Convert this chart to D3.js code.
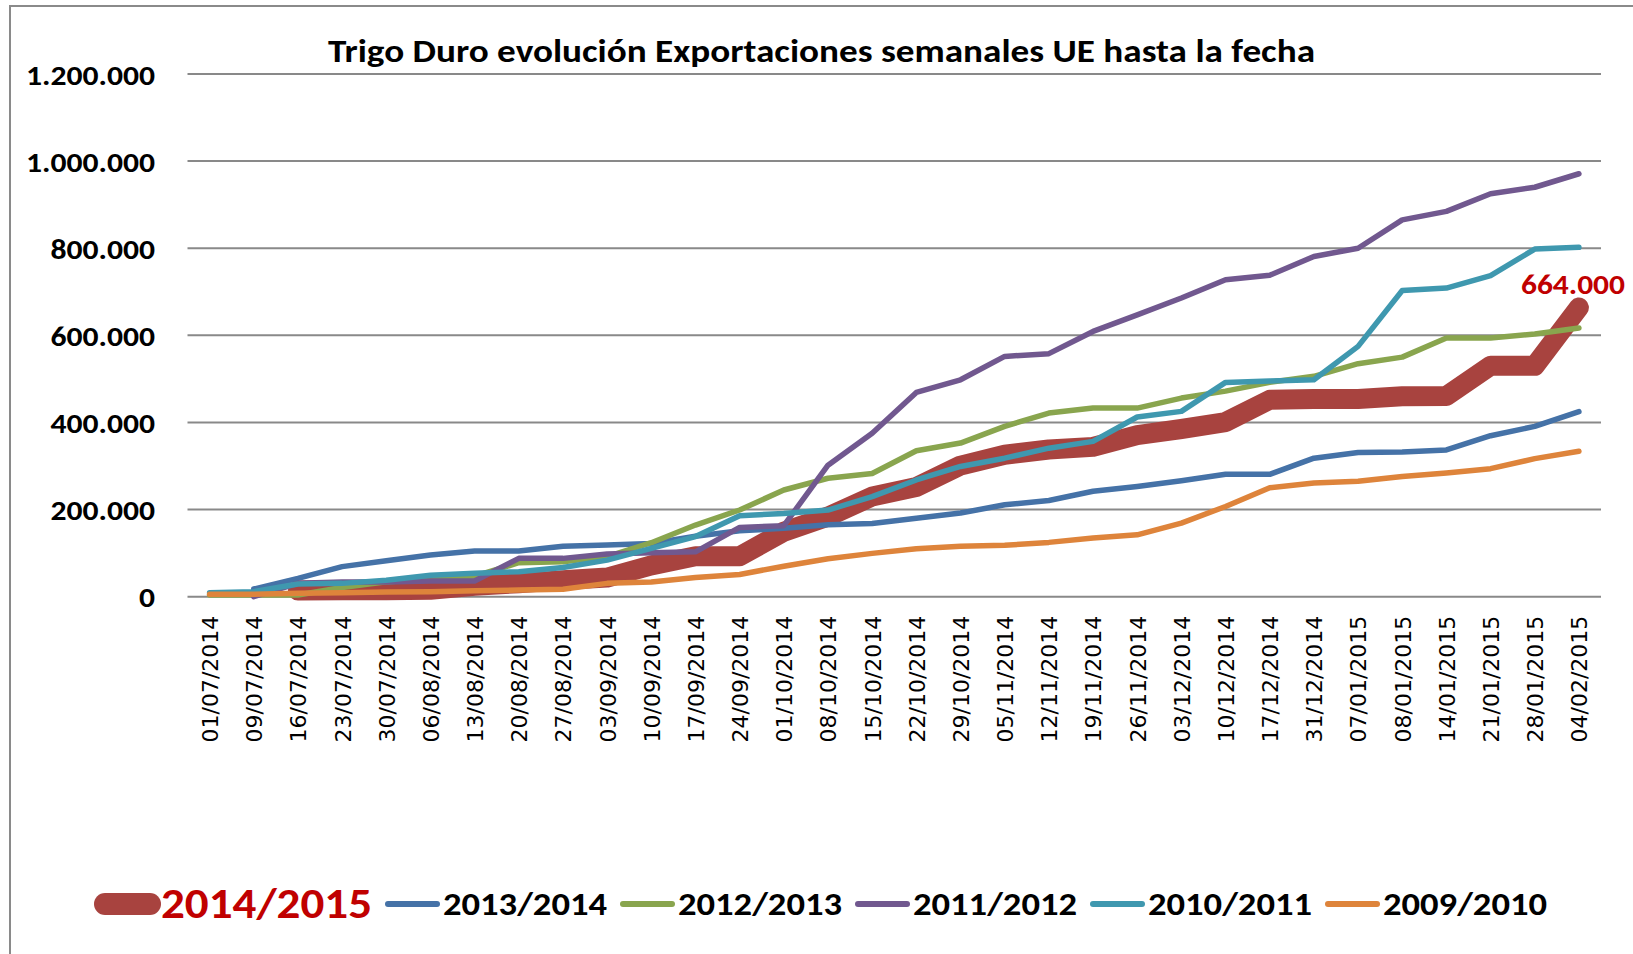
<!DOCTYPE html>
<html><head><meta charset="utf-8">
<script src="https://cdn.jsdelivr.net/npm/d3@7"></script>
<style>body{margin:0;background:#fff;} svg{display:block;}</style>
</head><body><svg id="c" width="1633" height="954"></svg>
<script>
const dates = ["01/07/2014","09/07/2014","16/07/2014","23/07/2014","30/07/2014","06/08/2014","13/08/2014","20/08/2014","27/08/2014","03/09/2014","10/09/2014","17/09/2014","24/09/2014","01/10/2014","08/10/2014","15/10/2014","22/10/2014","29/10/2014","05/11/2014","12/11/2014","19/11/2014","26/11/2014","03/12/2014","10/12/2014","17/12/2014","31/12/2014","07/01/2015","08/01/2015","14/01/2015","21/01/2015","28/01/2015","04/02/2015"];
const s2014_2015 = [null,null,14000,15000,15000,16000,25000,31000,38000,44000,72000,93000,93000,149000,184000,230000,252000,301000,326000,338000,344000,371000,385000,401000,452000,454000,454000,460000,461000,530000,530000,664000];
const s2013_2014 = [null,17600,42000,69000,82600,95700,105000,105000,116000,118600,122000,139000,151500,157000,165000,168000,180000,192000,211000,221000,242000,253000,266000,281000,281000,318000,331000,332000,337000,369600,391000,425000];
const s2012_2013 = [3800,3800,3800,21000,34000,42000,47000,78000,80000,92000,124000,164500,199000,245000,272000,283000,335000,352700,391000,421500,433000,433000,456000,472000,492000,506000,535000,550000,594000,594000,603000,617000];
const s2011_2012 = [null,0,30600,34000,34000,36000,36000,88000,88000,98000,101000,103000,159000,163000,302000,375000,469000,498000,551700,558000,609000,647000,685700,727700,738000,781000,800000,865000,884600,925000,940000,971000];
const s2010_2011 = [9000,11500,29000,30600,38000,49000,53600,57400,67000,84000,111000,138000,186000,191000,199000,229600,268000,299000,318000,341000,356600,412500,425500,492000,495000,498000,574700,703000,708600,737000,798000,802000];
const s2009_2010 = [5400,5400,7700,9000,10700,11500,13800,15300,17000,30600,33700,44000,51000,70000,87000,99500,110000,115600,118000,124700,134700,142000,169000,207000,250000,261000,265000,276000,284000,294000,317000,334000];
const seriesNames = ["2014/2015","2013/2014","2012/2013","2011/2012","2010/2011","2009/2010"];
const seriesValues = [s2014_2015,s2013_2014,s2012_2013,s2011_2012,s2010_2011,s2009_2010];
const seriesColors = ["#A8433F","#4572A7","#89A54E","#71588F","#3F98AF","#DE843B"];
const yTicks = [0,200000,400000,600000,800000,1000000,1200000];
const titleText = "Trigo Duro evolución Exportaciones semanales UE hasta la fecha";
const lastLabel = "664.000";

(function(){
const svg = d3.select("#c");
const W = 1633, H = 954;
const pLeft = 187.5, pRight = 1601, pTop = 74, pBottom = 596.7;
const calibri = "Carlito, Lato, 'Open Sans', sans-serif";

// stretch a text horizontally by a factor (Calibri is wider than the fallback)
function widen(node, factor){
  const w = node.getComputedTextLength();
  node.setAttribute("textLength", (w*factor).toFixed(1));
  node.setAttribute("lengthAdjust","spacingAndGlyphs");
  return w*factor;
}

svg.append("rect").attr("x",10).attr("y",6).attr("width",W+20).attr("height",H+20)
  .attr("fill","#fff").attr("stroke","#8a8a8a").attr("stroke-width",2);

const x = d3.scalePoint().domain(dates).range([pLeft,pRight]).padding(0.5);
const y = d3.scaleLinear().domain([0,1200000]).range([pBottom,pTop]);
const loc = d3.formatLocale({decimal:",",thousands:".",grouping:[3],currency:["","€"]});
const fmt = loc.format(",d");

svg.append("g").selectAll("line").data(yTicks).join("line")
  .attr("x1",pLeft).attr("x2",pRight).attr("y1",d=>y(d)).attr("y2",d=>y(d))
  .attr("stroke","#898989").attr("stroke-width",2);

const yAxis = d3.axisLeft(y).tickValues(yTicks).tickFormat(fmt).tickSize(0).tickPadding(0);
const ya = svg.append("g").attr("transform","translate(155,0)").call(yAxis);
ya.select(".domain").remove();
const yt = ya.selectAll("text").attr("font-family",calibri).attr("font-weight","bold").attr("font-size",28)
  .attr("fill","#000").attr("dy","0.36em");
let yFactor = 1;
yt.each(function(d){ if(d===1200000) yFactor = 129/this.getComputedTextLength(); });
yt.each(function(){ widen(this, yFactor); });

const xAxis = d3.axisBottom(x).tickSize(0).tickPadding(0);
const xa = svg.append("g").attr("transform",`translate(0,${pBottom})`).call(xAxis);
xa.select(".domain").remove();
xa.selectAll("text").attr("font-family","'DejaVu Sans', Verdana, sans-serif").attr("font-size",22)
  .attr("fill","#000").attr("text-anchor","end")
  .attr("transform","translate(0,19) rotate(-90)").attr("x",0).attr("y",0).attr("dy","0.36em");

const widths = [20,5.5,5.5,5.5,5.5,5.5];
seriesValues.forEach((vals,k)=>{
  const line = d3.line().defined(d=>d!=null).x((d,i)=>x(dates[i])).y(d=>y(d));
  svg.append("path").datum(vals).attr("d",line).attr("fill","none")
    .attr("stroke",seriesColors[k]).attr("stroke-width",widths[k])
    .attr("stroke-linejoin","round").attr("stroke-linecap","round");
});

const lbl = svg.append("text").attr("x",1573).attr("y",294)
  .attr("text-anchor","middle").attr("font-family",calibri).attr("font-weight","bold")
  .attr("font-size",28).attr("fill","#C00000").text(lastLabel);
widen(lbl.node(), 104/lbl.node().getComputedTextLength());

const tt = svg.append("text").attr("x",821.5).attr("y",62).attr("text-anchor","middle")
  .attr("font-family",calibri).attr("font-weight","bold").attr("font-size",33)
  .attr("fill","#000").text(titleText);
widen(tt.node(), 987/tt.node().getComputedTextLength());

const lg = svg.append("g");
let cx = 94;
seriesNames.forEach((name,k)=>{
  const first = k===0;
  const cy = 904;
  if(first){
    lg.append("line").attr("x1",cx+11).attr("x2",cx+56).attr("y1",cy).attr("y2",cy)
      .attr("stroke",seriesColors[k]).attr("stroke-width",22).attr("stroke-linecap","round");
    cx += 67;
  } else {
    lg.append("line").attr("x1",cx+3).attr("x2",cx+52).attr("y1",cy).attr("y2",cy)
      .attr("stroke",seriesColors[k]).attr("stroke-width",6).attr("stroke-linecap","round");
    cx += 58;
  }
  const t = lg.append("text").attr("x",cx).attr("y",first?918:915)
    .attr("font-family",calibri).attr("font-weight","bold")
    .attr("font-size",first?42:32).attr("fill",first?"#C00000":"#000").text(name);
  const w0 = t.node().getComputedTextLength();
  cx += widen(t.node(), (first?211:164)/w0) + 13;
});
})();
</script></body></html>
